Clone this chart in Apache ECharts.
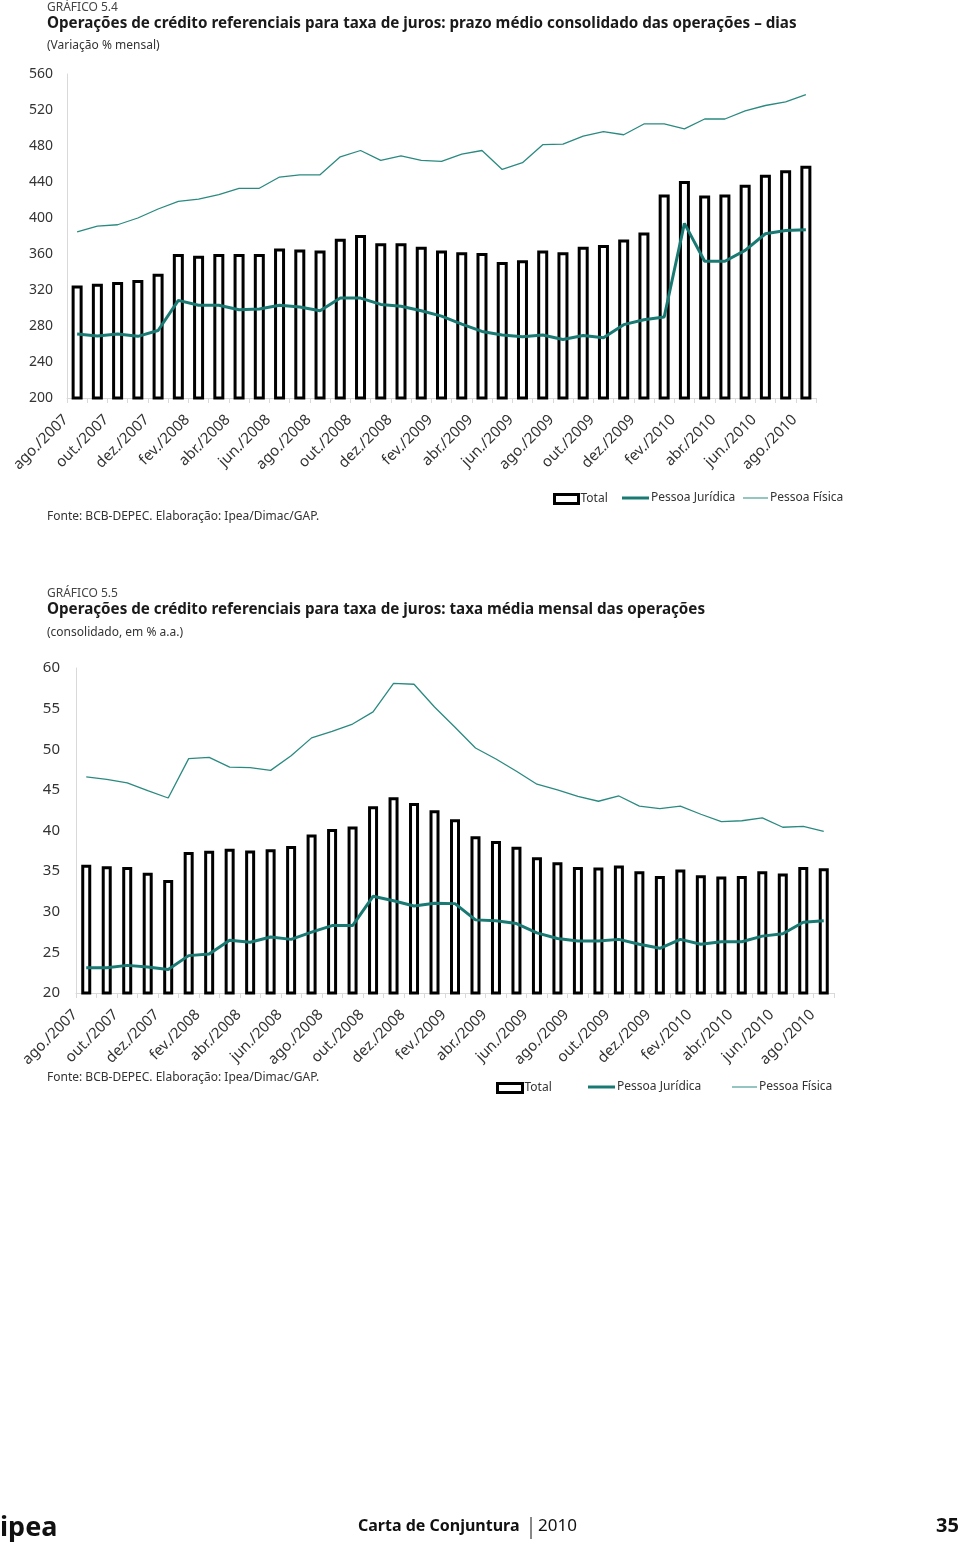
<!DOCTYPE html>
<html><head><meta charset="utf-8">
<script src="https://cdn.jsdelivr.net/npm/echarts@6/dist/echarts.min.js"></script>
<style>html,body{margin:0;padding:0;background:#fff}#c{width:960px;height:1543px}</style>
</head><body><div id="c"></div>
<script>
const months = ['ago./2007','set./2007','out./2007','nov./2007','dez./2007','jan./2008','fev./2008','mar./2008','abr./2008','mai./2008','jun./2008','jul./2008','ago./2008','set./2008','out./2008','nov./2008','dez./2008','jan./2009','fev./2009','mar./2009','abr./2009','mai./2009','jun./2009','jul./2009','ago./2009','set./2009','out./2009','nov./2009','dez./2009','jan./2010','fev./2010','mar./2010','abr./2010','mai./2010','jun./2010','jul./2010','ago./2010'];

// Gráfico 5.4 — prazo médio (dias)
const prazoTotal = [325,327,329,331,338,360,358,360,360,360,366,365,364,377,381,372,372,368,364,362,361,351,353,364,362,368,370,376,384,426,441,425,426,437,448,453,458];
const prazoPJ = [271,269,271,268.5,275,308.5,303,303,298,299,303,301,297,311,311,304,302,297,291,282,274,270,268,270,265,269.5,267,281.5,287,290,394,352,352,364,382.5,386,387];
const prazoPF = [384.5,391,392.5,400,410,418.5,421,426,433,433,445.5,448,448,468,475,464,469,464,463,471,475,454,461.5,481.5,482,491,496,492.5,504.5,504.5,499,510,510,519,525,529,537];
const prazoTicks = [200,560,40];

// Gráfico 5.5 — taxa média (% a.a.)
const taxaTotal = [35.8,35.6,35.5,34.8,33.9,37.35,37.5,37.75,37.55,37.7,38.1,39.5,40.2,40.5,43.0,44.1,43.4,42.5,41.4,39.3,38.7,38.0,36.7,36.1,35.5,35.45,35.7,35.0,34.4,35.2,34.5,34.35,34.4,35.0,34.7,35.5,35.35];
const taxaPJ = [23.1,23.1,23.4,23.2,22.9,24.6,24.8,26.5,26.25,26.9,26.6,27.5,28.3,28.3,31.9,31.35,30.7,31.05,31.0,29.0,28.9,28.55,27.4,26.7,26.4,26.4,26.6,26.0,25.5,26.6,26.0,26.3,26.3,27.0,27.3,28.7,28.9];
const taxaPF = [46.6,46.3,45.85,44.9,44.0,48.85,49.0,47.8,47.75,47.4,49.2,51.4,52.2,53.1,54.6,58.1,58.0,55.2,52.7,50.15,48.8,47.3,45.7,45.0,44.2,43.6,44.25,43.0,42.7,43.0,42.0,41.1,41.2,41.55,40.4,40.5,39.9];
const taxaTicks = [20,60,5];

const seriesNames = ['Total','Pessoa Jurídica','Pessoa Física'];
const FONT = '"Noto Sans", "Open Sans", sans-serif';
const TEAL_PJ = '#187a73';
const TEAL_PF = '#2a8a80';
const AXIS_GRAY = '#d9d9d9';
const TXT = '#333';

const chart = echarts.init(document.getElementById('c'), null, {renderer:'canvas'});

function xAxis(gridIndex, fs){
  return {type:'category', gridIndex, data: months, boundaryGap:true,
    axisLine:{show:true, lineStyle:{color:AXIS_GRAY, width:1}},
    axisTick:{show:true, interval:0, length:5, lineStyle:{color:AXIS_GRAY}},
    axisLabel:{interval:1, rotate:45, fontSize:fs, color:TXT, fontFamily:FONT, margin:8, padding:[0,16,0,0]},
    splitLine:{show:false}};
}
function yAxis(gridIndex, t, fs, m){
  return {type:'value', gridIndex, min:t[0], max:t[1], interval:t[2],
    axisLine:{show:true, lineStyle:{color:AXIS_GRAY, width:1}},
    axisTick:{show:false},
    axisLabel:{fontSize:fs, color:TXT, fontFamily:FONT, margin:m},
    splitLine:{show:false}};
}
function barSeries(idx, data, bw){
  return {name:seriesNames[0], type:'bar', xAxisIndex:idx, yAxisIndex:idx, data, barWidth:bw,
    itemStyle:{color:'#fff', borderColor:'#000', borderWidth:3}, silent:true, z:2};
}
function lineSeries(idx, name, data, color, w){
  return {name, type:'line', xAxisIndex:idx, yAxisIndex:idx, data, symbol:'none', showSymbol:false,
    lineStyle:{color, width:w}, itemStyle:{color}, silent:true, z:3};
}
function legendItem(name, left, top, opt){
  return Object.assign({show:true, data:[name], left, top, itemGap:0, padding:0, itemWidth:24, itemHeight:9,
    selectedMode:false, textStyle:{fontSize:12, color:TXT, fontFamily:FONT, padding:[0,0,0,-3]}}, opt);
}
function txt(text, left, top, fs, bold, color){
  return {text, left, top, textStyle:{fontSize:fs, fontWeight:bold?'bold':'normal', color:color||TXT, fontFamily:FONT}, padding:0};
}

const option = {
  animation:false,
  backgroundColor:'#fff',
  title:[
    txt('GRÁFICO 5.4', 47, 2, 12, false, '#444'),
    txt('Operações de crédito referenciais para taxa de juros: prazo médio consolidado das operações – dias', 47, 16, 15.2, true, '#1a1a1a'),
    txt('(Variação % mensal)', 47, 40, 12, false, '#333'),
    txt('Fonte: BCB-DEPEC. Elaboração: Ipea/Dimac/GAP.', 47, 511, 12, false, '#333'),
    txt('GRÁFICO 5.5', 47, 588, 12, false, '#444'),
    txt('Operações de crédito referenciais para taxa de juros: taxa média mensal das operações', 47, 602, 15.2, true, '#1a1a1a'),
    txt('(consolidado, em % a.a.)', 47, 627, 12, false, '#333'),
    txt('Fonte: BCB-DEPEC. Elaboração: Ipea/Dimac/GAP.', 47, 1072, 12, false, '#333')
  ],
  legend:[
    legendItem('Total', 553, 493, {icon:'rect', itemWidth:24, itemHeight:9, itemStyle:{color:'#fff', borderColor:'#000', borderWidth:3}}),
    legendItem('Pessoa Jurídica', 622, 492, {icon:'rect', itemWidth:27, itemHeight:3, itemStyle:{color:TEAL_PJ, borderWidth:0}}),
    legendItem('Pessoa Física', 743, 492, {icon:'rect', itemWidth:25, itemHeight:1, itemStyle:{color:TEAL_PF, borderWidth:0}}),
    legendItem('Total', 496, 1082, {icon:'rect', itemWidth:25, itemHeight:9, itemStyle:{color:'#fff', borderColor:'#000', borderWidth:3}}),
    legendItem('Pessoa Jurídica', 588, 1081, {icon:'rect', itemWidth:27, itemHeight:3, itemStyle:{color:TEAL_PJ, borderWidth:0}}),
    legendItem('Pessoa Física', 732, 1081, {icon:'rect', itemWidth:25, itemHeight:1, itemStyle:{color:TEAL_PF, borderWidth:0}})
  ],
  grid:[
    {left:67, top:74, width:749, height:324, containLabel:false},
    {left:76, top:668, width:758, height:325, containLabel:false}
  ],
  xAxis:[xAxis(0,15), xAxis(1,15)],
  yAxis:[yAxis(0,prazoTicks,14,14), yAxis(1,taxaTicks,15,16)],
  series:[
    barSeries(0, prazoTotal, 11),
    lineSeries(0, seriesNames[1], prazoPJ, TEAL_PJ, 3),
    lineSeries(0, seriesNames[2], prazoPF, TEAL_PF, 1.3),
    barSeries(1, taxaTotal, 10),
    lineSeries(1, seriesNames[1], taxaPJ, TEAL_PJ, 3),
    lineSeries(1, seriesNames[2], taxaPF, TEAL_PF, 1.3)
  ],
  graphic:[
    {type:'text', left:0, top:1515, style:{text:'ipea', font:'bold 27px '+FONT, fill:'#111'}},
    {type:'text', left:358, top:1518, style:{text:'Carta de Conjuntura', font:'bold 16px '+FONT, fill:'#111'}},
    {type:'line', shape:{x1:531, y1:1517, x2:531, y2:1539}, style:{stroke:'#111', lineWidth:1}},
    {type:'text', left:538, top:1518, style:{text:'2010', font:'17px '+FONT, fill:'#111'}},
    {type:'text', left:936, top:1516, style:{text:'35', font:'bold 20px '+FONT, fill:'#111'}}
  ]
};
chart.setOption(option);
</script>
</body></html>
